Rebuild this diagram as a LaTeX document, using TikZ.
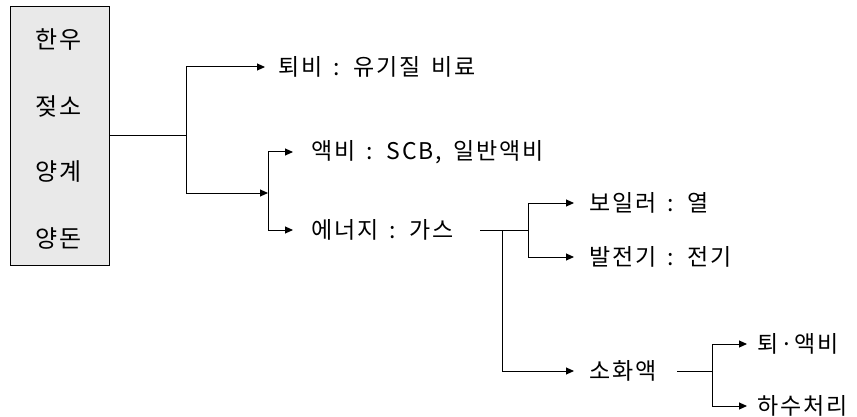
\documentclass[tikz,border=0pt]{standalone}
\usepackage{fontspec}
\setmainfont{Noto Sans CJK KR}[LetterSpace=8,WordSpace=1.6]
\usetikzlibrary{arrows.meta}
\definecolor{boxgray}{RGB}{233,233,233}
\begin{document}
\begin{tikzpicture}[x=1pt,y=-1pt,
  ln/.style={line width=1pt,black},
  arr/.style={ln,-{Triangle[length=8pt,width=7pt]}},
  txt/.style={inner sep=0pt,anchor=west,font=\fontsize{23}{27}\selectfont},
  boxtxt/.style={inner sep=0pt,font=\fontsize{24}{28}\selectfont}]
\useasboundingbox (0,0) rectangle (857,417);
% source box
\node[draw,fill=boxgray,line width=1pt,minimum width=99pt,minimum height=258pt,inner sep=0pt] (src) at (59.5,136) {};
\node[boxtxt] (s1) at (59,40) {한우};
\node[boxtxt] (s2) at (59,106) {젖소};
\node[boxtxt] (s3) at (59,172) {양계};
\node[boxtxt] (s4) at (59,238) {양돈};
% text nodes
\node[txt] (tb) at (278,67) {퇴비 : 유기질 비료};
\node[txt] (ab) at (311,152) {액비 : SCB, 일반액비};
\node[txt] (en) at (311,230) {에너지 : 가스};
\node[txt] (bo) at (589,203) {보일러 : 열};
\node[txt] (ba) at (589,257) {발전기 : 전기};
\node[txt] (so) at (589,371) {소화액};
\node[txt] (ta) at (757,344) {퇴·액비};
\node[txt] (ha) at (757,406) {하수처리};
% junctions
\coordinate (j1) at (186,136);
\coordinate (j2) at (268,193);
\coordinate (e1) at (480,230);
\coordinate (j3) at (502,230);
\coordinate (j4) at (528,230);
\coordinate (s5) at (677,371);
\coordinate (j5) at (712,371);
% connectors
\draw[ln] (src.east |- j1) -- (j1);
\draw[arr,shorten >=13pt] (j1) |- (tb.west);
\draw[arr] (j1) |- (j2);
\draw[arr,shorten >=18pt] (j2) |- (ab.west);
\draw[arr,shorten >=18pt] (j2) |- (en.west);
\draw[ln] (e1) -- (j4);
\draw[arr,shorten >=15pt] (j4) |- (bo.west);
\draw[arr,shorten >=15pt] (j4) |- (ba.west);
\draw[arr,shorten >=15pt] (j3) |- (so.west);
\draw[ln] (s5) -- (j5);
\draw[arr,shorten >=10pt] (j5) |- (ta.west);
\draw[arr,shorten >=10pt] (j5) |- (ha.west);
\end{tikzpicture}
\end{document}
